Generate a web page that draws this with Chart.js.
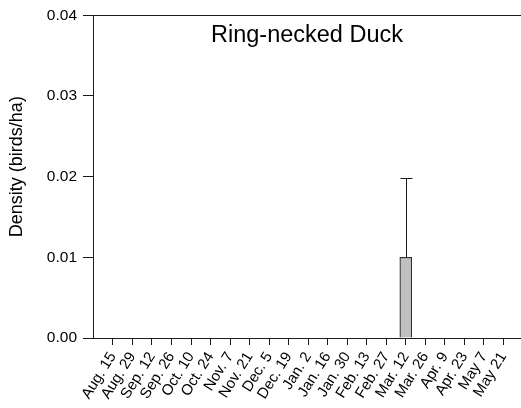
<!DOCTYPE html>
<html>
<head>
<meta charset="utf-8">
<script src="https://cdn.jsdelivr.net/npm/chart.js@4/dist/chart.umd.min.js"></script>
<style>
html,body{margin:0;padding:0;background:#fff;}
#wrap{width:521px;height:408px;}
</style>
</head>
<body>
<div id="wrap"><canvas id="c" width="521" height="408"></canvas></div>
<script>
const categories = ['Aug. 15','Aug. 29','Sep. 12','Sep. 26','Oct. 10','Oct. 24','Nov. 7','Nov. 21','Dec. 5','Dec. 19','Jan. 2','Jan. 16','Jan. 30','Feb. 13','Feb. 27','Mar. 12','Mar. 26','Apr. 9','Apr. 23','May 7','May 21'];
const density   = [0,0,0,0,0,0,0,0,0,0,0,0,0,0,0,0.0100,0,0,0,0,0];
const densitySE = [0,0,0,0,0,0,0,0,0,0,0,0,0,0,0,0.0098,0,0,0,0,0];
const yTicks = [0.00,0.01,0.02,0.03,0.04];
const chartTitle = 'Ring-necked Duck';
const yTitle = 'Density (birds/ha)';

const FONT = '"Liberation Sans", Arial, Helvetica, sans-serif';
const INK = '#1a1a1a';

const errorBars = {
  id: 'errorBars',
  afterDatasetsDraw(chart) {
    const meta = chart.getDatasetMeta(0);
    const xs = chart.scales.x, ys = chart.scales.y;
    const ctx = chart.ctx;
    ctx.save();
    ctx.strokeStyle = INK;
    ctx.lineWidth = 1;
    density.forEach((v, i) => {
      const e = densitySE[i];
      if (!e) return;
      const x = Math.round(xs.getPixelForValue(i)) + 0.5;
      const yb = ys.getPixelForValue(v);
      const yt = Math.round(ys.getPixelForValue(v + e)) + 0.5;
      const half = meta.data[i].width / 2;
      ctx.beginPath();
      ctx.moveTo(x, yb);
      ctx.lineTo(x, yt);
      ctx.moveTo(x - half, yt);
      ctx.lineTo(x + half, yt);
      ctx.stroke();
    });
    ctx.restore();
  }
};

// y-axis title, placed as in the reference (slightly above the plot's centre)
const yAxisTitle = {
  id: 'yAxisTitle',
  afterDraw(chart) {
    const ctx = chart.ctx;
    const ys = chart.scales.y;
    ctx.save();
    ctx.translate(17, (ys.top + ys.bottom) / 2 - 10);
    ctx.rotate(-Math.PI / 2);
    ctx.fillStyle = '#000';
    ctx.font = '18px ' + FONT;
    ctx.textAlign = 'center';
    ctx.textBaseline = 'middle';
    ctx.fillText(yTitle, 0, 0);
    ctx.restore();
  }
};

new Chart(document.getElementById('c'), {
  type: 'bar',
  data: {
    datasets: [{
      data: density.map((v, i) => ({x: i, y: v})),
      backgroundColor: '#c0c0c0',
      borderColor: '#333333',
      borderWidth: 1.2,
      barThickness: 12
    }]
  },
  options: {
    responsive: false,
    animation: false,
    layout: {padding: {left: 0, right: 0, top: 0, bottom: 0}},
    plugins: {
      legend: {display: false},
      tooltip: {enabled: false},
      title: {
        display: true,
        text: chartTitle,
        fullSize: false,
        color: '#000',
        font: {family: FONT, size: 23.5, weight: 'normal'},
        padding: {top: 21, bottom: -34.2}
      }
    },
    scales: {
      x: {
        type: 'linear',
        position: 'bottom',
        min: -1.02,
        max: 20.9,
        offset: false,
        afterBuildTicks(s) { s.ticks = categories.map((_, i) => ({value: i})); },
        afterFit(s) { s.height = 70; s.paddingLeft = 0; s.paddingRight = 0; },
        ticks: {
          autoSkip: false,
          minRotation: 58,
          maxRotation: 58,
          padding: 4,
          color: '#000',
          font: {family: FONT, size: 15},
          callback: (v) => categories[v]
        },
        grid: {display: true, offset: false, drawOnChartArea: false, drawTicks: true, tickLength: 7, color: INK},
        border: {display: true, color: INK, width: 1}
      },
      xTop: {
        type: 'linear',
        position: 'top',
        min: -1.02,
        max: 20.9,
        ticks: {display: false},
        grid: {display: false, drawTicks: false},
        border: {display: true, color: INK, width: 1},
        afterFit(s) { s.height = 0; s.paddingLeft = 0; s.paddingRight = 0; }
      },
      y: {
        type: 'linear',
        min: 0,
        max: 0.04,
        afterBuildTicks(s) { s.ticks = yTicks.map(v => ({value: v})); },
        afterFit(s) { s.width = 93; },
        ticks: {
          padding: 6,
          color: '#000',
          font: {family: FONT, size: 15.5},
          callback: (v) => Number(v).toFixed(2)
        },
        grid: {display: true, drawOnChartArea: false, drawTicks: true, tickLength: 10, color: INK},
        border: {display: true, color: INK, width: 1},
        title: {display: false}
      }
    }
  },
  plugins: [errorBars, yAxisTitle]
});
</script>
</body>
</html>
